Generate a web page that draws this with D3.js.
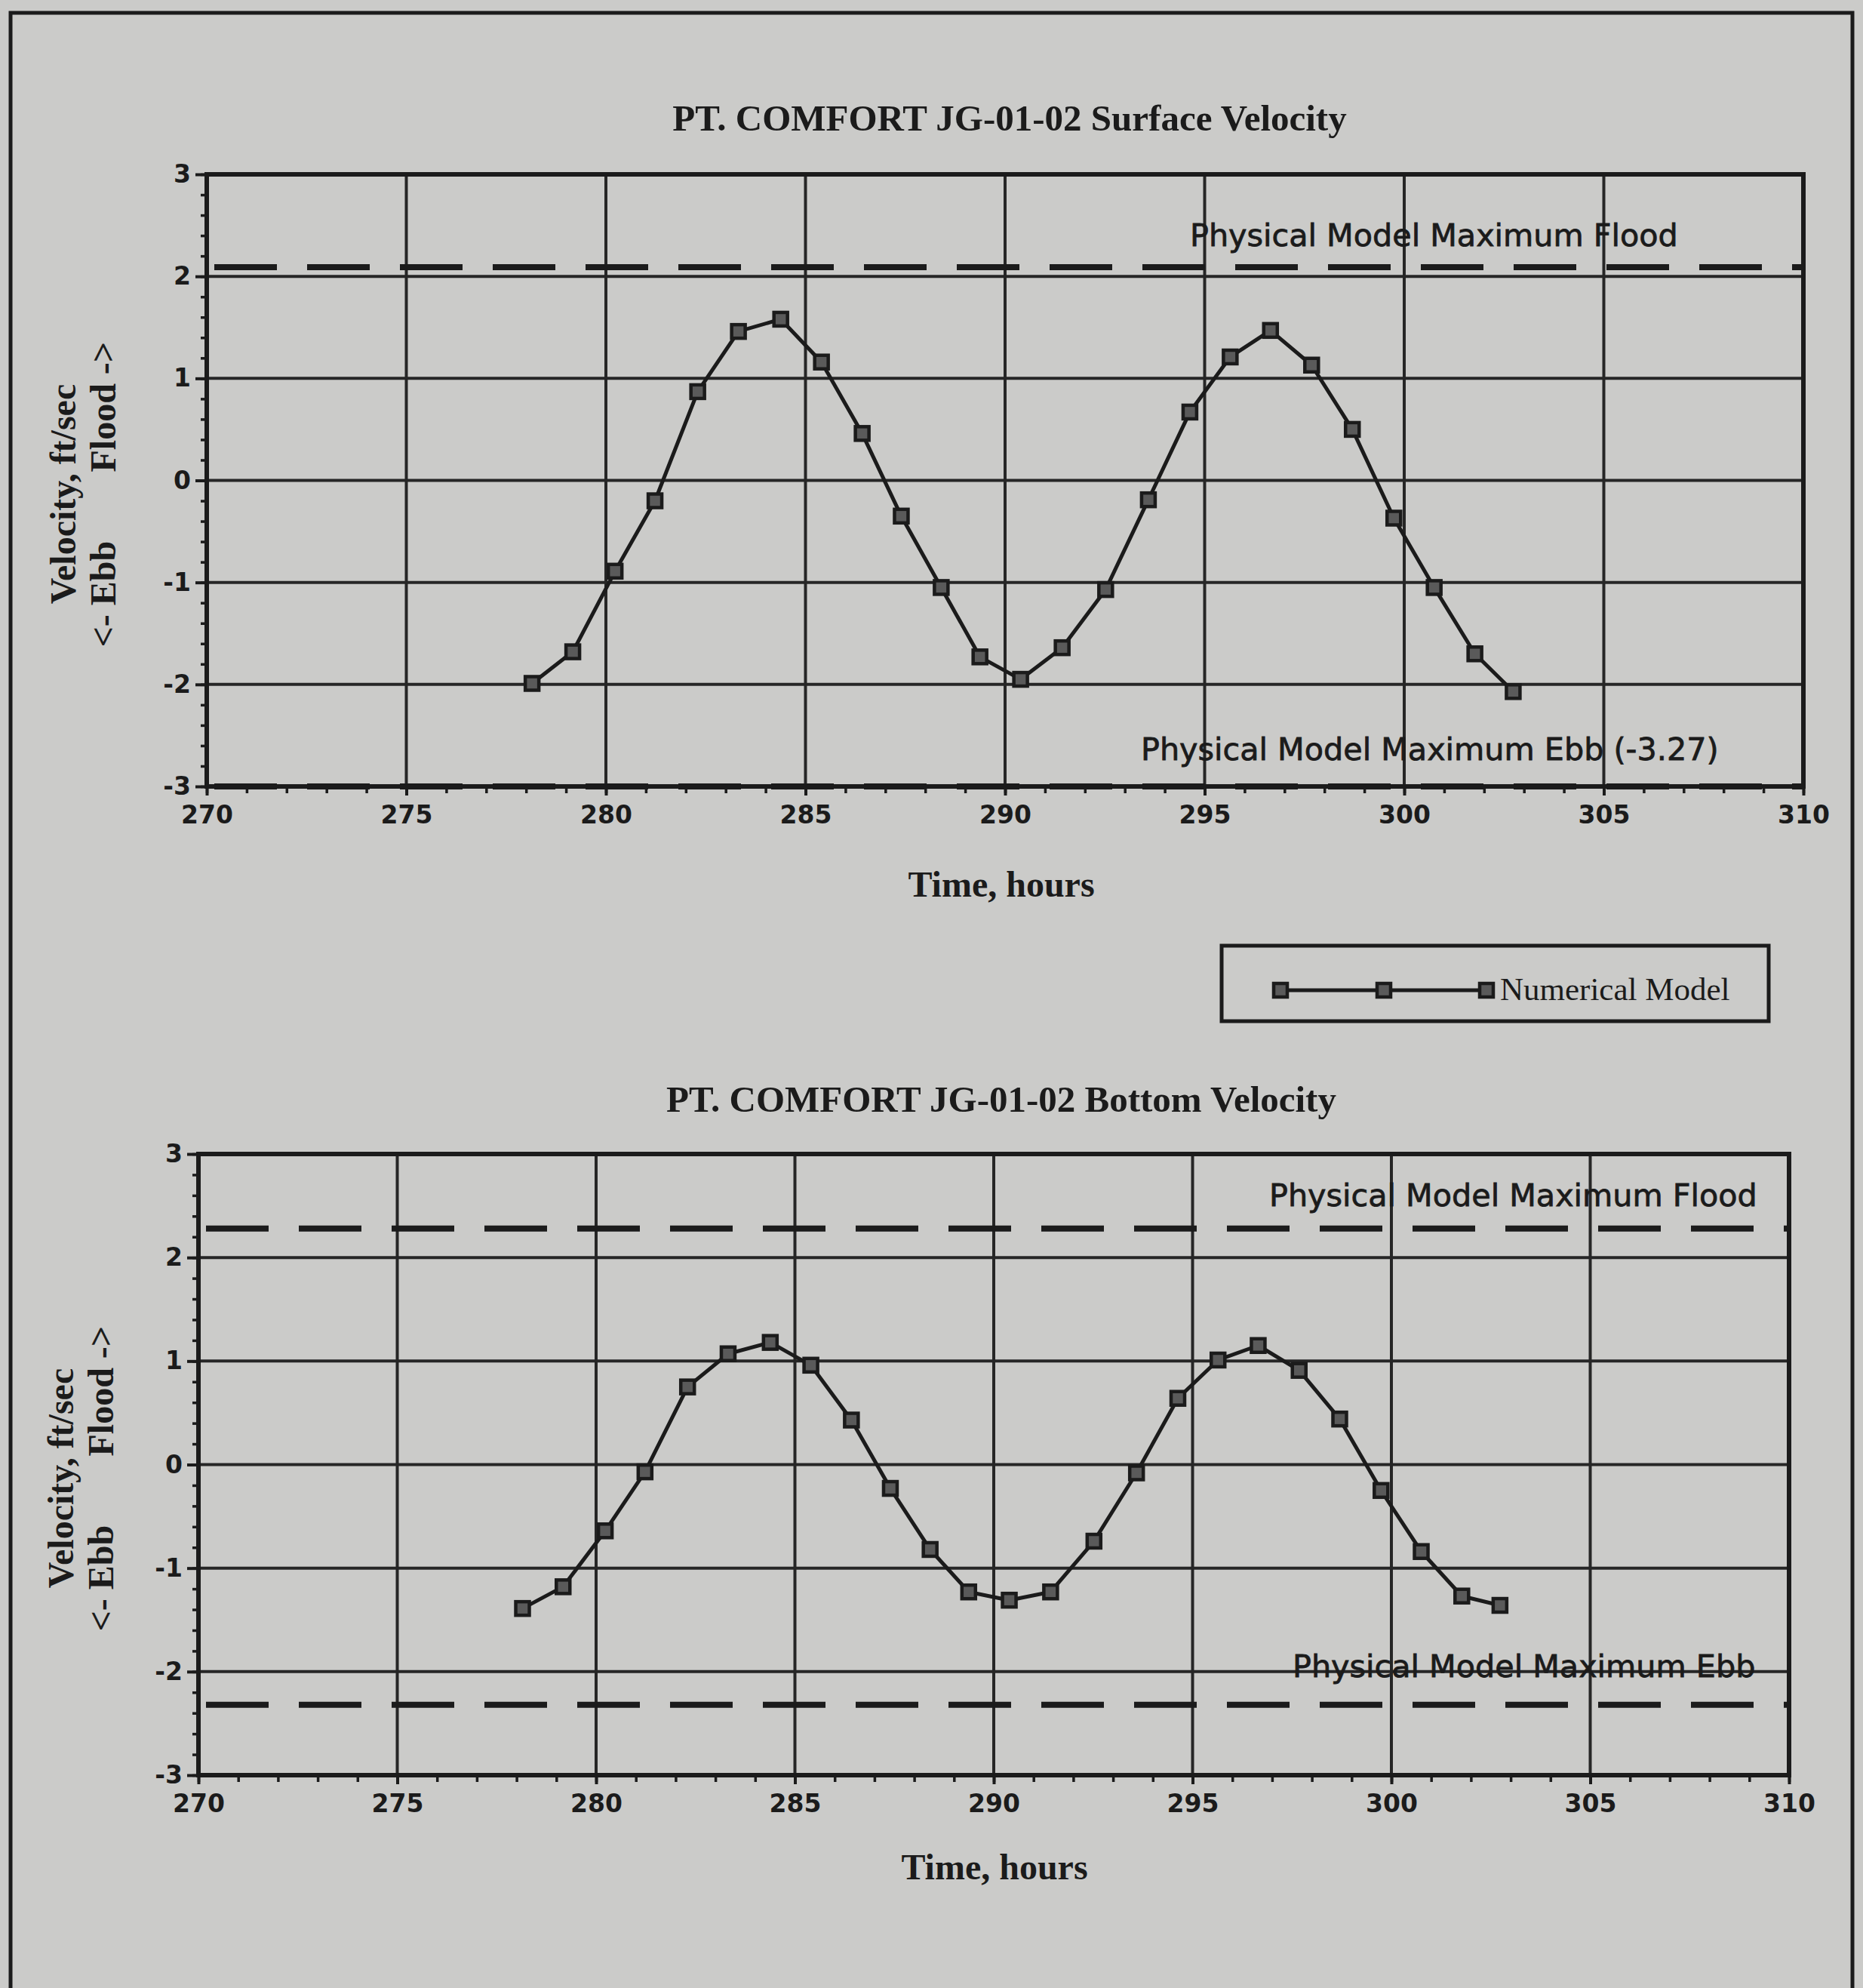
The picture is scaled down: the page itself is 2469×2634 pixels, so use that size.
<!DOCTYPE html>
<html>
<head>
<meta charset="utf-8">
<script src="https://cdn.jsdelivr.net/npm/d3@7/dist/d3.min.js"></script>
<style>
  html, body { margin: 0; padding: 0; background: #cbcbc9; }
  svg { display: block; }
</style>
</head>
<body>
<svg id="chart" width="2469" height="2634"></svg>
<script>
// Sample times (hours) shared by both records
const hours = [278.15, 279.17, 280.23, 281.23, 282.30, 283.32, 284.38, 285.40, 286.42, 287.40,
               288.40, 289.37, 290.39, 291.43, 292.52, 293.59, 294.63, 295.64, 296.65, 297.68,
               298.70, 299.74, 300.75, 301.77, 302.73];

// Numerical model velocities, ft/sec (flood positive, ebb negative)
const surfaceVelocity = [-1.99, -1.68, -0.89, -0.20, 0.87, 1.46, 1.58, 1.16, 0.46, -0.35,
                         -1.05, -1.73, -1.95, -1.64, -1.07, -0.19, 0.67, 1.21, 1.47, 1.13,
                         0.50, -0.37, -1.05, -1.70, -2.07];
const bottomVelocity = [-1.39, -1.18, -0.64, -0.07, 0.75, 1.07, 1.18, 0.96, 0.43, -0.23,
                        -0.82, -1.23, -1.31, -1.23, -0.74, -0.08, 0.64, 1.01, 1.15, 0.91,
                        0.44, -0.25, -0.84, -1.27, -1.36];

// Physical model maxima, ft/sec
const surfaceMaxFlood = 2.09;
const surfaceMaxEbb = -3.27;
const bottomMaxFlood = 2.28;
const bottomMaxEbb = -2.32;

// Axis ticks
const velocityTicks = [-3, -2, -1, 0, 1, 2, 3];
const hourTicks = [270, 275, 280, 285, 290, 295, 300, 305, 310];
const hourDomain = [270, 310];
const velocityDomain = [-3, 3];

const INK = "#1b1b1b";
const SERIF = "'Liberation Serif', 'Times New Roman', serif";
const SANS = "'DejaVu Sans', Verdana, sans-serif";
const plainNumber = d => String(d);

const svg = d3.select("#chart");

// Page frame
svg.append("path")
  .attr("d", "M14,2634 L14,17 L2455,17 L2455,2634")
  .attr("fill", "none").attr("stroke", INK).attr("stroke-width", 5);

const panels = [
  {
    title: "PT. COMFORT JG-01-02 Surface Velocity",
    values: surfaceVelocity, flood: surfaceMaxFlood, ebb: surfaceMaxEbb,
    floodLabel: "Physical Model Maximum Flood",
    ebbLabel: `Physical Model Maximum Ebb (${surfaceMaxEbb})`,
    box: { left: 274, right: 2390, top: 231, bottom: 1042 },
    titlePos: [1338, 173], floodPos: [1577, 326], ebbPos: [1512, 1007],
    xTitlePos: [1327, 1188], yTitleX: [100, 153]
  },
  {
    title: "PT. COMFORT JG-01-02 Bottom Velocity",
    values: bottomVelocity, flood: bottomMaxFlood, ebb: bottomMaxEbb,
    floodLabel: "Physical Model Maximum Flood",
    ebbLabel: "Physical Model Maximum Ebb",
    box: { left: 263, right: 2371, top: 1529, bottom: 2352 },
    titlePos: [1327, 1473], floodPos: [1682, 1598], ebbPos: [1713, 2222],
    xTitlePos: [1318, 2490], yTitleX: [97, 150]
  }
];

function drawMarkers(g, pts, size) {
  g.selectAll("rect.mk").data(pts).join("rect")
    .attr("class", "mk")
    .attr("x", d => d[0] - size / 2).attr("y", d => d[1] - size / 2)
    .attr("width", size).attr("height", size)
    .attr("fill", "#5a5a5a").attr("stroke", INK).attr("stroke-width", 4.5);
}

panels.forEach(p => {
  const b = p.box;
  const x = d3.scaleLinear().domain(hourDomain).range([b.left, b.right]);
  const y = d3.scaleLinear().domain(velocityDomain).range([b.bottom, b.top]).clamp(true);
  const g = svg.append("g");

  // Title
  g.append("text").attr("x", p.titlePos[0]).attr("y", p.titlePos[1])
    .attr("text-anchor", "middle").attr("font-family", SERIF).attr("font-weight", "bold")
    .attr("font-size", 49).attr("fill", INK).text(p.title);

  // Grid
  const grid = g.append("g").attr("stroke", "#262626").attr("stroke-width", 4);
  grid.selectAll("line.v").data(hourTicks.slice(1, -1)).join("line").attr("class", "v")
    .attr("x1", d => x(d)).attr("x2", d => x(d)).attr("y1", b.top).attr("y2", b.bottom);
  grid.selectAll("line.h").data(velocityTicks.slice(1, -1)).join("line").attr("class", "h")
    .attr("x1", b.left).attr("x2", b.right).attr("y1", d => y(d)).attr("y2", d => y(d));

  // Physical model maxima (dashed)
  const dashes = g.append("g").attr("stroke", INK).attr("stroke-width", 8)
    .attr("stroke-dasharray", "83,40");
  [p.flood, p.ebb].forEach(v => {
    dashes.append("line").attr("x1", b.left + 10).attr("x2", b.right)
      .attr("y1", y(v)).attr("y2", y(v));
  });

  // Minor ticks
  const minorY = d3.range(-3, 3.001, 0.2).map(v => +v.toFixed(1));
  g.append("g").attr("transform", `translate(${b.left},0)`)
    .call(d3.axisLeft(y).tickValues(minorY).tickSize(8).tickFormat(""))
    .call(s => s.select(".domain").remove())
    .selectAll("line").attr("stroke", INK).attr("stroke-width", 3.5);
  g.append("g").attr("transform", `translate(0,${b.bottom})`)
    .call(d3.axisBottom(x).tickValues(d3.range(270, 311, 1)).tickSize(9).tickFormat(""))
    .call(s => s.select(".domain").remove())
    .selectAll("line").attr("stroke", INK).attr("stroke-width", 3.5);

  // Major axes with labels
  const yAxis = g.append("g").attr("transform", `translate(${b.left},0)`)
    .call(d3.axisLeft(y).tickValues(velocityTicks).tickSize(15).tickPadding(6).tickFormat(plainNumber));
  yAxis.select(".domain").remove();
  yAxis.selectAll("line").attr("stroke", INK).attr("stroke-width", 4);
  yAxis.selectAll("text").attr("font-family", SANS).attr("font-weight", "bold")
    .attr("font-size", 33).attr("fill", INK);

  const xAxis = g.append("g").attr("transform", `translate(0,${b.bottom})`)
    .call(d3.axisBottom(x).tickValues(hourTicks).tickSize(12).tickPadding(14).tickFormat(plainNumber));
  xAxis.select(".domain").remove();
  xAxis.selectAll("line").attr("stroke", INK).attr("stroke-width", 4);
  xAxis.selectAll("text").attr("font-family", SANS).attr("font-weight", "bold")
    .attr("font-size", 33).attr("fill", INK);

  // Plot frame
  g.append("rect").attr("x", b.left).attr("y", b.top)
    .attr("width", b.right - b.left).attr("height", b.bottom - b.top)
    .attr("fill", "none").attr("stroke", INK).attr("stroke-width", 6);

  // Threshold labels
  [[p.floodLabel, p.floodPos], [p.ebbLabel, p.ebbPos]].forEach(([t, pos]) => {
    g.append("text").attr("x", pos[0]).attr("y", pos[1])
      .attr("font-family", SANS).attr("font-size", 41.3).attr("fill", INK)
      .attr("stroke", INK).attr("stroke-width", 0.8).text(t);
  });

  // Numerical model series
  const pts = hours.map((h, i) => [x(h), y(p.values[i])]);
  g.append("path").attr("d", d3.line()(pts))
    .attr("fill", "none").attr("stroke", INK).attr("stroke-width", 5)
    .attr("stroke-linejoin", "round");
  drawMarkers(g, pts, 18);

  // Axis titles
  g.append("text").attr("x", p.xTitlePos[0]).attr("y", p.xTitlePos[1])
    .attr("text-anchor", "middle").attr("font-family", SERIF).attr("font-weight", "bold")
    .attr("font-size", 48).attr("fill", INK).text("Time, hours");

  const mid = (b.top + b.bottom) / 2;
  const yt = (tx, ty, anchor, txt) => g.append("text")
    .attr("transform", `translate(${tx},${ty}) rotate(-90)`)
    .attr("text-anchor", anchor).attr("font-family", SERIF).attr("font-weight", "bold")
    .attr("font-size", 48).attr("fill", INK).text(txt);
  yt(p.yTitleX[0], mid + 18, "middle", "Velocity, ft/sec");
  yt(p.yTitleX[1], mid + 221, "start", "<- Ebb");
  yt(p.yTitleX[1], mid - 11, "start", "Flood ->");
});

// Legend
const legend = svg.append("g");
legend.append("rect").attr("x", 1619).attr("y", 1253).attr("width", 725).attr("height", 100)
  .attr("fill", "none").attr("stroke", INK).attr("stroke-width", 5);
const legendPts = [[1697, 1312], [1834, 1312], [1970, 1312]];
legend.append("path").attr("d", d3.line()(legendPts))
  .attr("stroke", INK).attr("stroke-width", 5);
drawMarkers(legend, legendPts, 18);
legend.append("text").attr("x", 1988).attr("y", 1325)
  .attr("font-family", SERIF).attr("font-size", 43).attr("fill", INK).text("Numerical Model");
</script>
</body>
</html>
